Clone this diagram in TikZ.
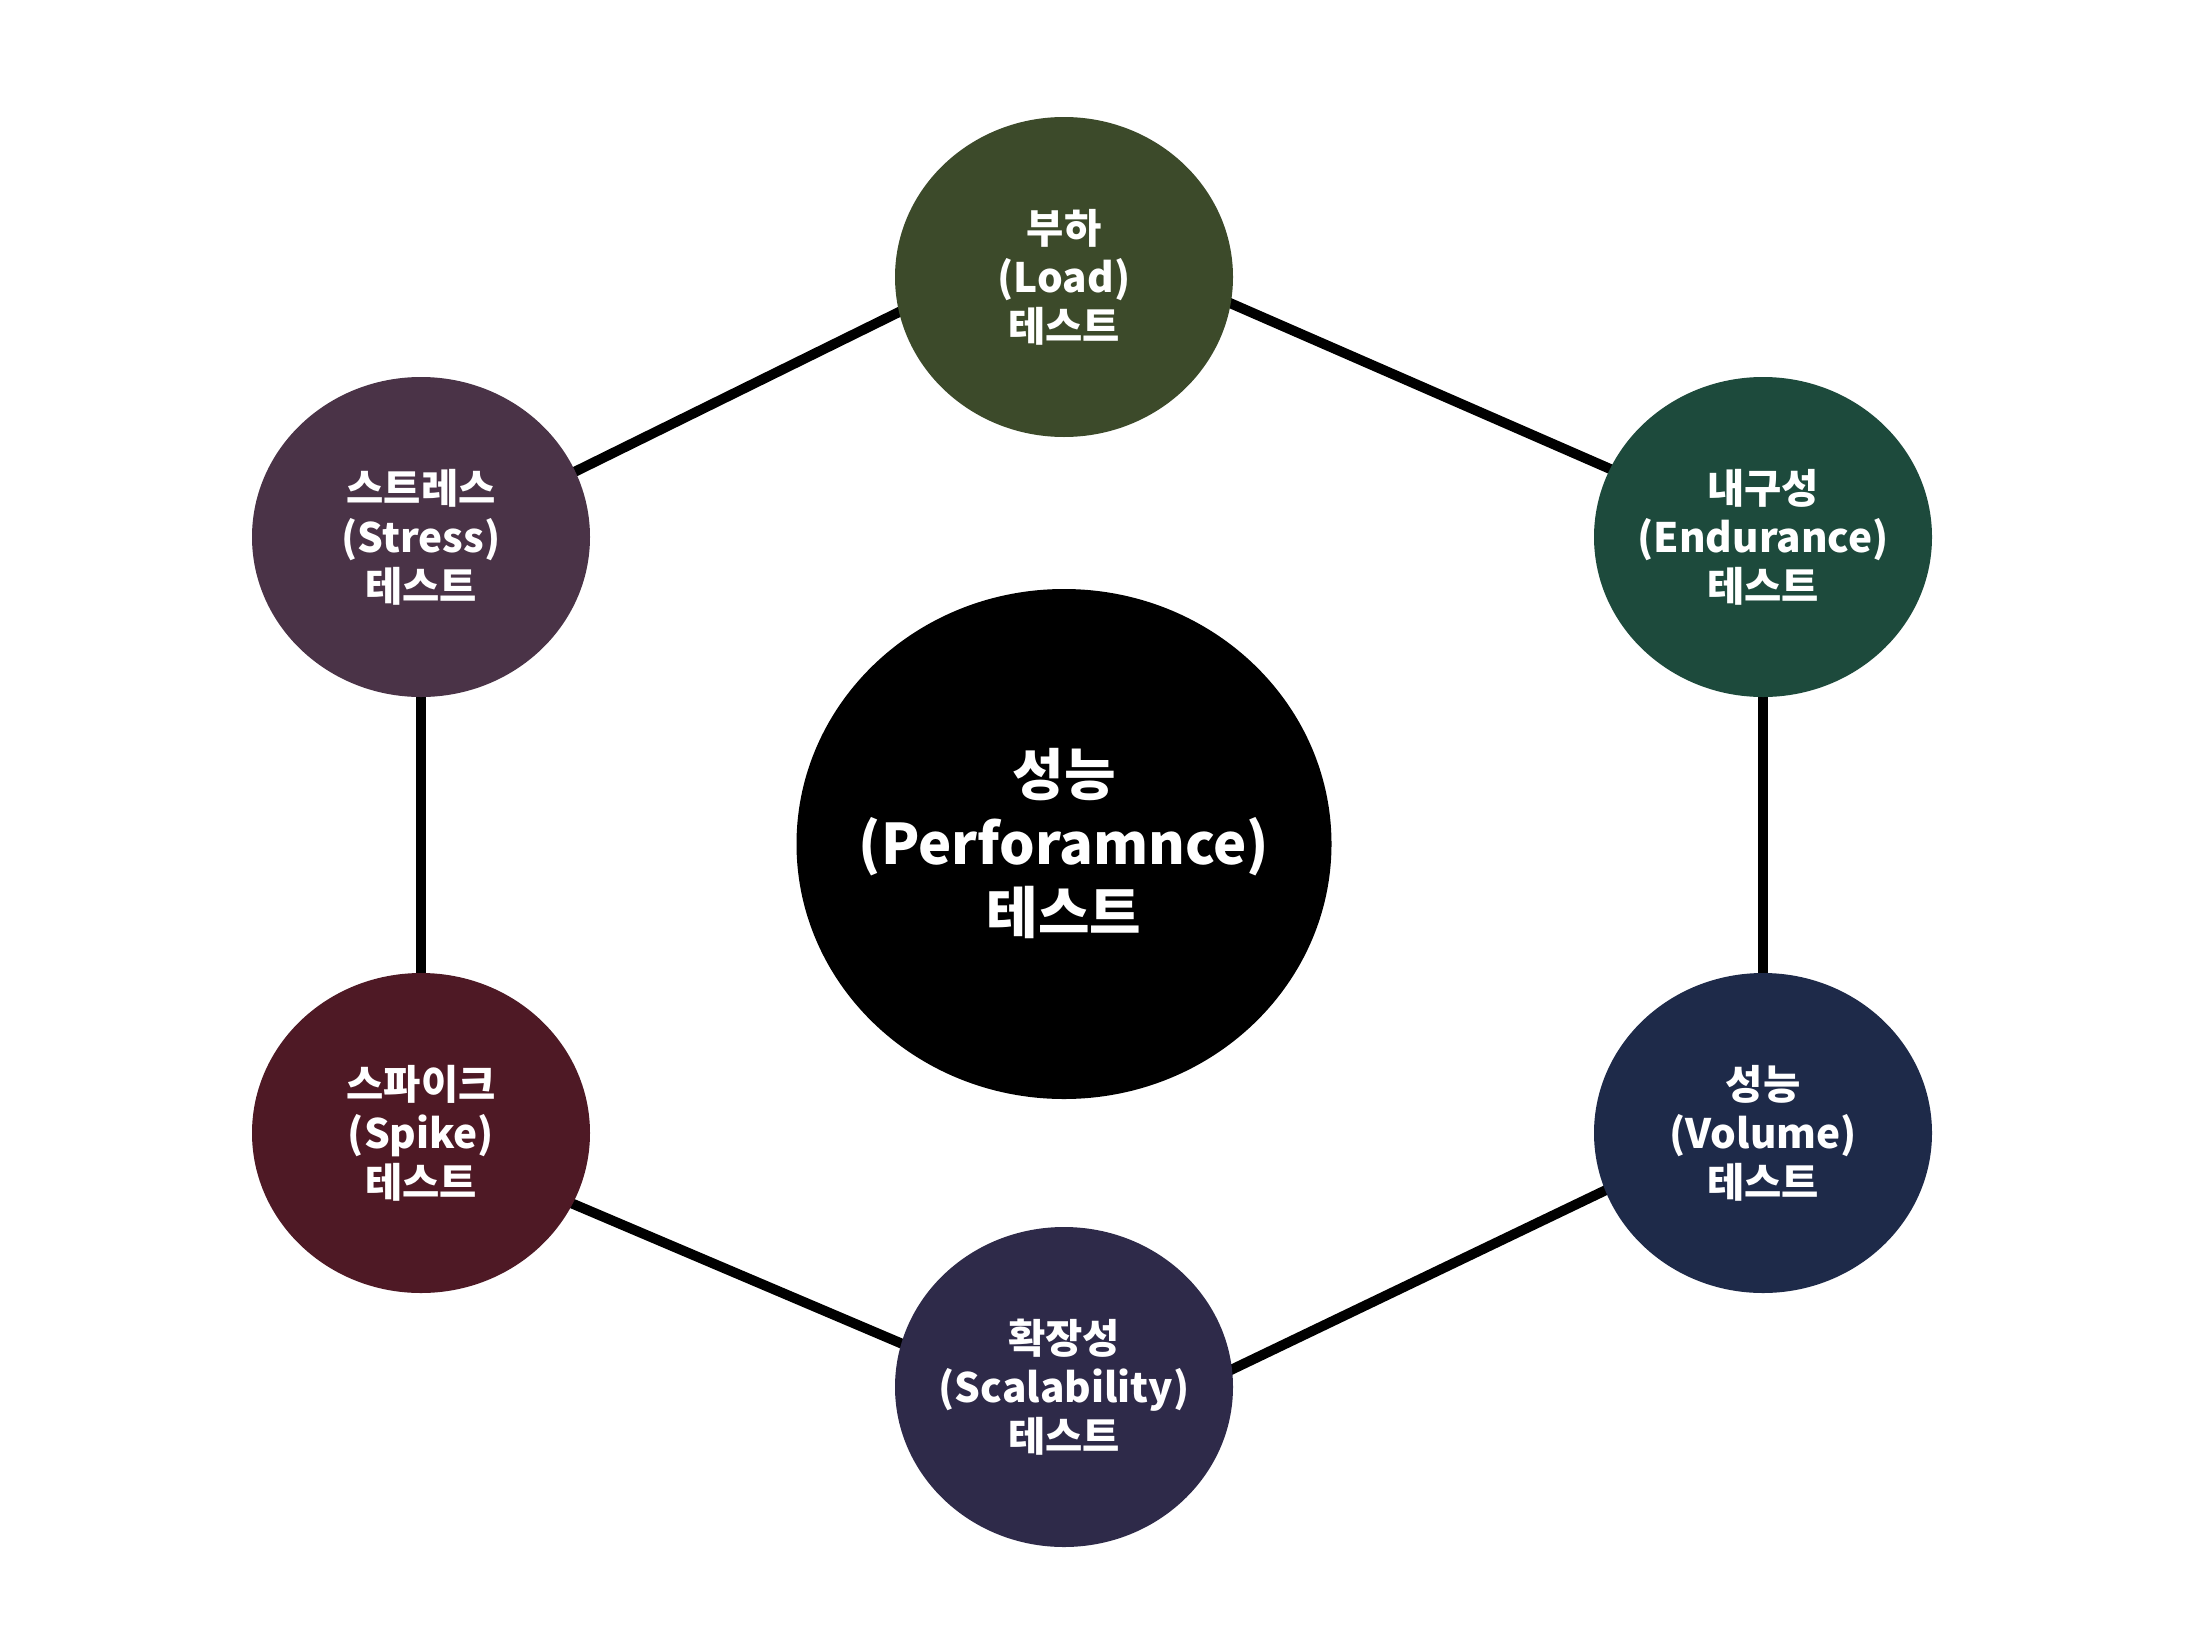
\documentclass[tikz,border=0pt]{standalone}
\usepackage{fontspec}
\setmainfont{Noto Sans CJK KR}
\usetikzlibrary{shapes.geometric,backgrounds}
\definecolor{loadcol}{HTML}{3C4A2A}
\definecolor{stresscol}{HTML}{4A3347}
\definecolor{endurcol}{HTML}{1D4A3C}
\definecolor{spikecol}{HTML}{4E1925}
\definecolor{volcol}{HTML}{1E2A49}
\definecolor{scalecol}{HTML}{2E2A49}

\begin{document}
\begin{tikzpicture}[x=1pt, y=-1pt,
  bub/.style={ellipse, minimum width=338pt, minimum height=320pt, inner sep=0pt},
  lbl/.style={text=white, align=center, inner sep=0pt,
              font=\bfseries\fontsize{40.5}{49}\selectfont},
  biglbl/.style={lbl, font=\bfseries\fontsize{56}{69}\selectfont},
  ln/.style={line width=10pt, shorten <=-8pt, shorten >=-8pt}]
\useasboundingbox (0,0) rectangle (2210,1646);
\node[bub, minimum width=535pt, minimum height=510pt, fill=black,
      label={[biglbl]center:성능\\(Perforamnce)\\테스트}] (perf) at (1064,844) {};
\node[bub, fill=loadcol, label={[lbl]center:부하\\(Load)\\테스트}] (load) at (1064,277) {};
\node[bub, fill=endurcol, label={[lbl]center:내구성\\(Endurance)\\테스트}] (endur) at (1763,537) {};
\node[bub, fill=volcol, label={[lbl]center:성능\\(Volume)\\테스트}] (vol) at (1763,1133) {};
\node[bub, fill=scalecol, label={[lbl]center:확장성\\(Scalability)\\테스트}] (scale) at (1064,1387) {};
\node[bub, fill=spikecol, label={[lbl]center:스파이크\\(Spike)\\테스트}] (spike) at (421,1133) {};
\node[bub, fill=stresscol, label={[lbl]center:스트레스\\(Stress)\\테스트}] (stress) at (421,537) {};
% hexagon ring behind the bubbles
\begin{scope}[on background layer]
\draw[ln] (stress.23) -- (load.192);
\draw[ln] (load.351) -- (endur.156);
\draw[ln] (endur.south) -- (vol.north);
\draw[ln] (vol.200) -- (scale.6);
\draw[ln] (scale.165) -- (spike.335);
\draw[ln] (spike.north) -- (stress.south);
\end{scope}
\end{tikzpicture}
\end{document}
